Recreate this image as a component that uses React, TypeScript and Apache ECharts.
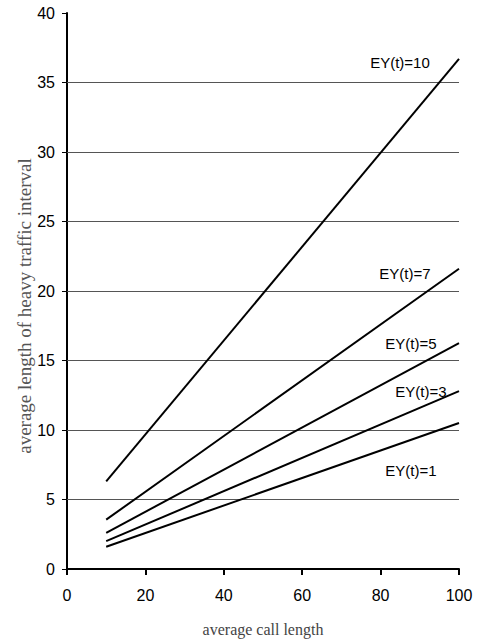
import React, { useEffect, useRef } from "react";
import * as echarts from "echarts";

const xValues = [10, 100];
const ey10 = [6.3, 36.7];
const ey7 = [3.55, 21.6];
const ey5 = [2.6, 16.25];
const ey3 = [2.0, 12.8];
const ey1 = [1.6, 10.5];
const seriesNames = ["EY(t)=10", "EY(t)=7", "EY(t)=5", "EY(t)=3", "EY(t)=1"];
const gridValues = [5, 10, 15, 20, 25, 30, 35];
const labelPos = [
  [400, 62],
  [405, 273],
  [411, 343],
  [421, 391],
  [411, 470],
];
const xTitle = "average call length";
const yTitle = "average length of heavy traffic interval";

export default function App() {
  const ref = useRef<HTMLDivElement>(null);
  useEffect(() => {
    if (!ref.current) return;
    const chart = echarts.init(ref.current, null, { renderer: "svg" });
    const all = [ey10, ey7, ey5, ey3, ey1];
    const series: any[] = all.map((vals, i) => ({
      type: "line",
      name: seriesNames[i],
      data: vals.map((v, j) => [xValues[j], v]),
      showSymbol: false,
      symbol: "none",
      lineStyle: { color: "#000", width: 2 },
      z: 5,
    }));
    series.push({
      type: "line",
      data: [],
      markLine: {
        silent: true,
        symbol: "none",
        label: { show: false },
        lineStyle: { color: "#555", width: 1, type: "solid" },
        data: gridValues.map((v) => ({ yAxis: v })),
      },
      z: 2,
    });
    const labelTexts = seriesNames.map((n, i) => ({
      type: "text",
      x: labelPos[i][0],
      y: labelPos[i][1],
      style: {
        text: n,
        fontFamily: "Liberation Sans",
        fontSize: 15,
        fill: "#000",
        align: "center",
        verticalAlign: "middle",
      },
    }));
    chart.setOption({
      animation: false,
      backgroundColor: "#fff",
      grid: { left: 67, right: 18, top: 13, bottom: 72, containLabel: false },
      xAxis: {
        type: "value",
        min: 0,
        max: 100,
        interval: 20,
        name: xTitle,
        nameLocation: "middle",
        nameGap: 52,
        nameTextStyle: { fontFamily: "Liberation Serif", fontSize: 16, color: "#444" },
        axisLine: { show: true, lineStyle: { color: "#000", width: 2 } },
        axisTick: { show: true, length: 6, lineStyle: { color: "#000", width: 2 } },
        axisLabel: { fontFamily: "Liberation Sans", fontSize: 16, color: "#000", margin: 18 },
        splitLine: { show: false },
      },
      yAxis: {
        type: "value",
        min: 0,
        max: 40,
        interval: 5,
        axisLine: { show: true, lineStyle: { color: "#000", width: 2 } },
        axisTick: { show: true, length: 5, lineStyle: { color: "#000", width: 1 } },
        axisLabel: { fontFamily: "Liberation Sans", fontSize: 16, color: "#000", margin: 12 },
        splitLine: { show: false },
      },
      graphic: [
        ...labelTexts,
        {
          type: "text",
          x: 24,
          y: 306,
          rotation: Math.PI / 2,
          style: {
            text: yTitle,
            fontFamily: "Liberation Serif",
            fontSize: 19,
            fill: "#555",
            align: "center",
            verticalAlign: "middle",
          },
        },
      ],
      series,
    });
    return () => chart.dispose();
  }, []);
  return (
    <div
      ref={ref}
      style={{ position: "fixed", left: 0, top: 0, width: 477, height: 642 }}
    />
  );
}
